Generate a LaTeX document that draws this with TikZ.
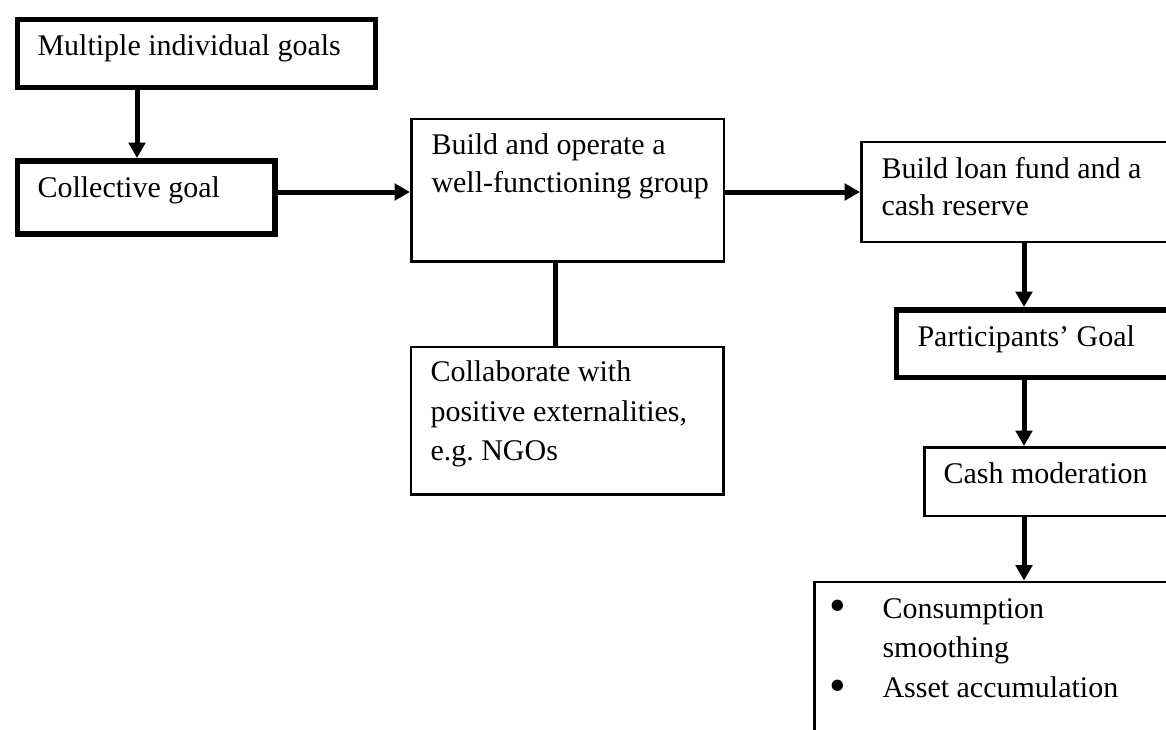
\documentclass[tikz,border=0pt]{standalone}
\usepackage{fontspec}
\setmainfont{Liberation Serif}
\usetikzlibrary{arrows.meta}
\begin{document}
\begin{tikzpicture}[x=0.4pt,y=-0.4pt,
  thinbox/.style={draw, line width=1.1pt, rectangle, inner sep=0pt, anchor=north west},
  thickbox/.style={draw, line width=2.3pt, rectangle, inner sep=0pt, anchor=north west},
  txt/.style={anchor=base west, inner sep=0pt, font=\fontsize{12}{16}\selectfont},
  bullet/.style={anchor=center, inner sep=0pt, font=\fontsize{19}{16}\selectfont},
  conn/.style={line width=2pt},
  arr/.style={conn, -{Triangle[length=6.2pt,width=6.6pt]}}]
\useasboundingbox (0,0) rectangle (1166,729);
\clip (0,0) rectangle (1166,729);

% boxes
\node[thickbox, minimum width=143.2pt, minimum height=27.2pt] (b1) at (14.5,16.5) {};
\node[thickbox, minimum width=103pt, minimum height=29.2pt] (b2) at (14.5,158) {};
\node[thinbox, minimum width=125pt, minimum height=57pt] (b3) at (410,117.5) {};
\node[thinbox, minimum width=125pt, minimum height=59pt] (b4) at (409.5,345.5) {};
\node[thinbox, minimum width=136pt, minimum height=40pt] (b5) at (860,140.5) {};
\node[thickbox, minimum width=122.6pt, minimum height=27pt] (b6) at (893.5,307) {};
\node[thinbox, minimum width=110.8pt, minimum height=27.4pt] (b7) at (923,446) {};
\node[thinbox, minimum width=154.8pt, minimum height=100pt] (b8) at (813,580.5) {};

% texts
\node[txt] (t1) at (37,55) {Multiple individual goals};
\node[txt] (t2) at (37,197) {Collective goal};
\node[txt] (t3a) at (431,154) {Build and operate a};
\node[txt] (t3b) at (431,192) {well-functioning group};
\node[txt] (t4a) at (430,381) {Collaborate with};
\node[txt] (t4b) at (430,421) {positive externalities,};
\node[txt] (t4c) at (430,460) {e.g.\ NGOs};
\node[txt] (t5a) at (881,178) {Build loan fund and a};
\node[txt] (t5b) at (881,215) {cash reserve};
\node[txt] (t6) at (917,346) {Participants’ Goal};
\node[txt] (t7) at (943,483) {Cash moderation};
\node[bullet] (u1) at (838,611) {\textbullet};
\node[txt] (t8a) at (882,618) {Consumption};
\node[txt] (t8b) at (882,657) {smoothing};
\node[bullet] (u2) at (838,691) {\textbullet};
\node[txt] (t8c) at (882,697) {Asset accumulation};

% connector positions
\coordinate (xa) at (137,0);
\coordinate (yh) at (0,192);
\coordinate (xl) at (555,0);
\coordinate (xr) at (1024,0);

% connectors
\draw[arr] (b1.south -| xa) -- (b2.north -| xa);
\draw[arr] (b2.east |- yh) -- (b3.west |- yh);
\draw[arr] (b3.east |- yh) -- (b5.west |- yh);
\draw[conn] (b3.south -| xl) -- (b4.north -| xl);
\draw[arr] (b5.south -| xr) -- (b6.north -| xr);
\draw[arr] (b6.south -| xr) -- (b7.north -| xr);
\draw[arr] (b7.south -| xr) -- (b8.north -| xr);
\end{tikzpicture}
\end{document}
